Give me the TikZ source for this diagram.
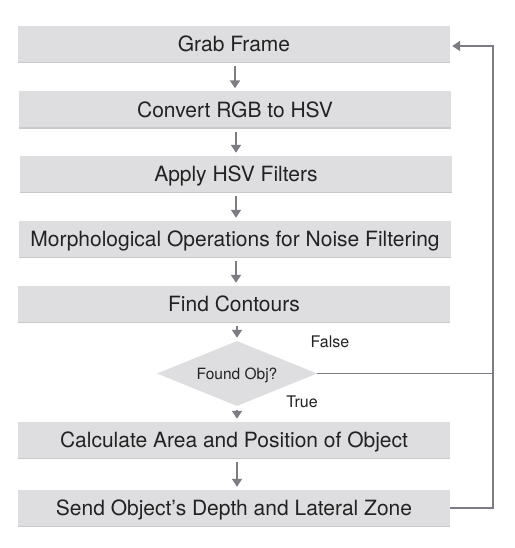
\documentclass[tikz,border=0pt]{standalone}
\usepackage{fontspec}
\setmainfont{TeX Gyre Heros}
\usetikzlibrary{shapes.geometric,arrows.meta,shadows}
\definecolor{boxfill}{HTML}{DEDEE0}
\definecolor{linecol}{HTML}{7C7D82}
\definecolor{txt}{HTML}{222222}
\tikzset{
  stepbox/.style={rectangle, fill=boxfill, minimum width=432pt, minimum height=36pt,
    inner sep=0pt, text=txt, font=\fontsize{21pt}{23pt}\selectfont,
    text height=15.2pt, text depth=0pt,
    drop shadow={shadow xshift=0pt, shadow yshift=-1.2pt, opacity=0.35, fill=black!60}},
  decide/.style={diamond, fill=boxfill, aspect=2.45, minimum width=160pt, minimum height=65pt,
    inner sep=0pt, text=txt, font=\fontsize{15.5pt}{17pt}\selectfont,
    text height=11.2pt, text depth=0pt},
  flow/.style={draw=linecol, line width=1.8pt, -{Triangle[length=8pt,width=10pt]}, shorten <=4pt, shorten >=3pt},
  back/.style={draw=linecol, line width=1.8pt},
  lbl/.style={text=txt, font=\fontsize{16pt}{18pt}\selectfont, inner sep=0pt}
}
\begin{document}
\begin{tikzpicture}[x=1pt,y=-1pt]
\useasboundingbox (0,0) rectangle (514,548);
\fill[white] (0,0) rectangle (514,548);
\node[stepbox] (grab) at (234,44) {Grab Frame};
\node[stepbox] (conv) at (235,109.5) {Convert RGB to HSV};
\node[stepbox] (apply) at (236,174) {Apply HSV Filters};
\node[stepbox] (morph) at (235,239) {Morphological Operations for Noise Filtering};
\node[stepbox] (find) at (234,304) {Find Contours};
\node[decide] (dec) at (237,373.5) {Found Obj?};
\node[stepbox] (calc) at (234,440) {Calculate Area and Position of Object};
\node[stepbox] (send) at (234,508) {Send Object’s Depth and Lateral Zone};
\coordinate (c1) at (493,508);
\coordinate (c2) at (493,46);
\coordinate (c3) at (493,373.5);
\draw[flow] (grab.south -| 235,0) -- (conv.north -| 235,0);
\draw[flow] (conv.south -| 236,0) -- (apply.north -| 236,0);
\draw[flow] (apply.south -| 236,0) -- (morph.north -| 236,0);
\draw[flow] (morph.south -| 236,0) -- (find.north -| 236,0);
\draw[flow] (find.south -| 237,0) -- (dec.north);
\draw[flow] (dec.south) -- (calc.north -| 237,0);
\draw[flow] (calc.south -| 237,0) -- (send.north -| 237,0);
\draw[back, -{Triangle[length=8pt,width=10pt]}, shorten >=2pt] (send.east) -- (c1) -- (c2) -- (grab.east |- c2);
\draw[draw=linecol, line width=1.3pt] (dec.east) -- (c3);
\node[lbl] (flbl) at (330,342) {False};
\node[lbl] (tlbl) at (302,402) {True};
\end{tikzpicture}
\end{document}
